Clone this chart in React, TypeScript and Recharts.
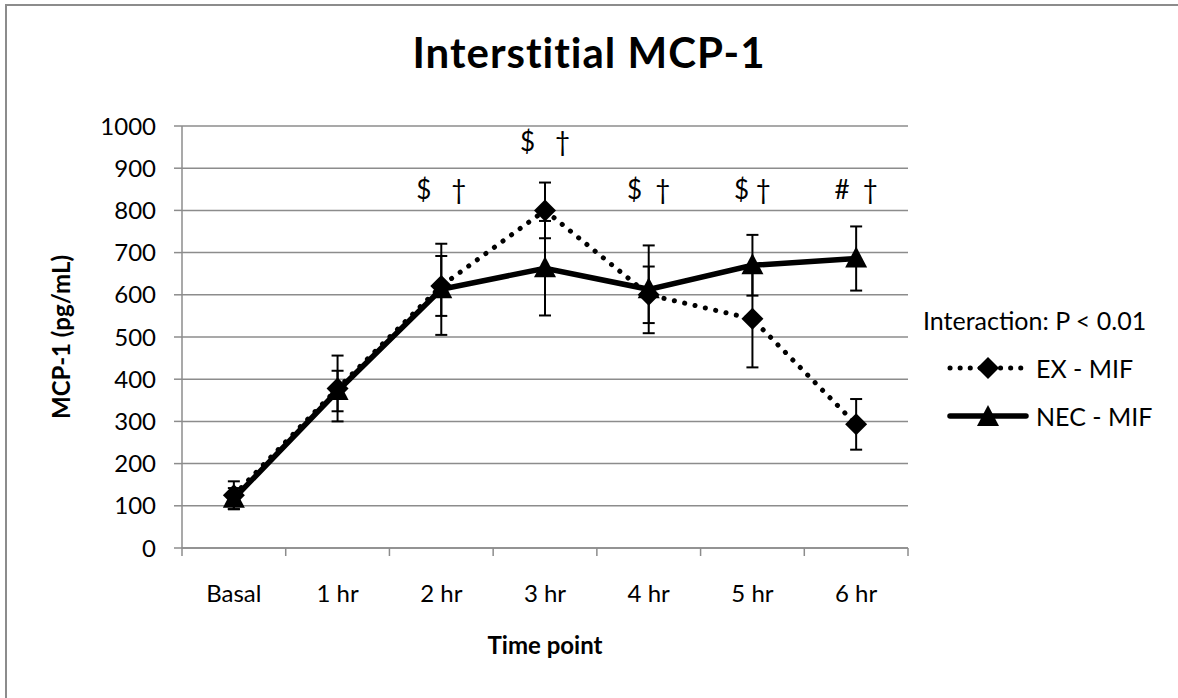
import React from 'react'
import { LineChart, Line, XAxis, YAxis, CartesianGrid, ErrorBar, ReferenceDot } from 'recharts'

const timePoints = ['Basal', '1 hr', '2 hr', '3 hr', '4 hr', '5 hr', '6 hr']
const exMif = [125, 378, 621, 800, 600, 543, 293]
const exMifErr = [33, 78, 71, 66, 67, 115, 60]
const necMif = [117, 372, 613, 663, 613, 670, 686]
const necMifErr = [25, 48, 108, 112, 104, 72, 76]
const notes = ['', '', '$\u00A0\u00A0\u00A0†', '$\u00A0\u00A0\u00A0†', '$\u00A0\u00A0†', '$\u00A0†', '#\u00A0\u00A0†']
const noteLevel = [0, 0, 848, 962, 848, 848, 848]
const yTicks = [0, 100, 200, 300, 400, 500, 600, 700, 800, 900, 1000]

const data = timePoints.map((t, i) => ({
  time: t,
  ex: exMif[i],
  exErr: exMifErr[i],
  nec: necMif[i],
  necErr: necMifErr[i],
}))

const FONT = 'Lato, "Open Sans", sans-serif'
const GRID = '#8c8c8c'
const HALF_STEP = 51.85

const Diamond = (props: any) => {
  const { cx, cy } = props
  if (cx == null || cy == null) return null
  return <path d={`M${cx},${cy - 11} L${cx + 11},${cy} L${cx},${cy + 11} L${cx - 11},${cy} Z`} fill="#000" />
}

const Triangle = (props: any) => {
  const { cx, cy } = props
  if (cx == null || cy == null) return null
  return <path d={`M${cx},${cy - 12} L${cx + 11},${cy + 9} L${cx - 11},${cy + 9} Z`} fill="#000" />
}

const XTick = (props: any) => {
  const { x, y, payload, index } = props
  const last = index === timePoints.length - 1
  return (
    <g>
      <line x1={x - HALF_STEP} x2={x - HALF_STEP} y1={y - 8} y2={y} stroke={GRID} strokeWidth={1.5} />
      {last && <line x1={x + HALF_STEP} x2={x + HALF_STEP} y1={y - 8} y2={y} stroke={GRID} strokeWidth={1.5} />}
      <text x={x} y={y + 46} textAnchor="middle" fontSize={24} fill="#000" fontFamily={FONT}>
        {payload.value}
      </text>
    </g>
  )
}

const LegendBox = () => (
  <div style={{ position: 'absolute', left: 920, top: 305, fontFamily: FONT, fontSize: 25, color: '#000', lineHeight: '30px' }}>
    <div style={{ marginLeft: 3, height: 30 }}>Interaction: P &lt; 0.01</div>
    <div style={{ display: 'flex', alignItems: 'center', marginTop: 18, height: 30 }}>
      <svg width={110} height={24}>
        <line x1={30} x2={106} y1={12} y2={12} stroke="#000" strokeWidth={5} strokeDasharray="0.1 10" strokeLinecap="round" />
        <path d="M68,1 L79,12 L68,23 L57,12 Z" fill="#000" />
      </svg>
      <span style={{ marginLeft: 6 }}>EX -  MIF</span>
    </div>
    <div style={{ display: 'flex', alignItems: 'center', marginTop: 18, height: 30 }}>
      <svg width={110} height={24}>
        <line x1={30} x2={106} y1={12} y2={12} stroke="#000" strokeWidth={5.5} strokeLinecap="round" />
        <path d="M68,1 L79,22 L57,22 Z" fill="#000" />
      </svg>
      <span style={{ marginLeft: 6 }}>NEC - MIF</span>
    </div>
  </div>
)

export default function App() {
  return (
    <div style={{ position: 'absolute', left: 0, top: 0, width: 1178, height: 698, overflow: 'hidden', background: '#fff' }}>
      <div style={{ position: 'absolute', left: 5, top: 4, width: 1300, height: 900, borderTop: `2px solid ${GRID}`, borderLeft: `2px solid ${GRID}` }} />
      <div style={{ position: 'absolute', left: 0, top: 27, width: 1178, textAlign: 'center', fontFamily: FONT, fontWeight: 700, fontSize: 42, letterSpacing: 1, color: '#000' }}>
        Interstitial MCP-1
      </div>
      <LineChart width={1178} height={698} data={data} margin={{ top: 126, right: 270, bottom: 120, left: 122 }}>
        <CartesianGrid horizontal vertical={false} stroke={GRID} strokeWidth={1.5} />
        <XAxis
          dataKey="time"
          padding={{ left: HALF_STEP, right: HALF_STEP }}
          height={30}
          axisLine={{ stroke: GRID, strokeWidth: 1.5 }}
          tickLine={false}
          interval={0}
          tick={<XTick />}
          label={{ value: 'Time point', position: 'insideBottom', offset: -76, fontSize: 24, fontWeight: 700, fill: '#000', fontFamily: FONT }}
        />
        <YAxis
          width={60}
          domain={[0, 1000]}
          ticks={yTicks}
          interval={0}
          axisLine={{ stroke: GRID, strokeWidth: 1.5 }}
          tickLine={{ stroke: GRID, strokeWidth: 1.5 }}
          tickSize={8}
          tickMargin={18}
          tick={{ fontSize: 24, fill: '#000', fontFamily: FONT }}
          label={{ value: 'MCP-1 (pg/mL)', angle: -90, position: 'center', dx: -91, fontSize: 24, fontWeight: 700, fill: '#000', fontFamily: FONT }}
        />
        <Line
          dataKey="ex"
          name="EX - MIF"
          stroke="#000"
          strokeWidth={5}
          strokeDasharray="0.1 10.5"
          strokeLinecap="round"
          dot={<Diamond />}
          activeDot={false}
          isAnimationActive={false}
        >
          <ErrorBar dataKey="exErr" width={6} stroke="#000" strokeWidth={2} direction="y" />
        </Line>
        <Line
          dataKey="nec"
          name="NEC - MIF"
          stroke="#000"
          strokeWidth={5.5}
          dot={<Triangle />}
          activeDot={false}
          isAnimationActive={false}
        >
          <ErrorBar dataKey="necErr" width={6} stroke="#000" strokeWidth={2} direction="y" />
        </Line>
        {timePoints.map((t, i) =>
          notes[i] ? (
            <ReferenceDot
              key={t}
              x={t}
              y={noteLevel[i]}
              r={0}
              fill="none"
              stroke="none"
              ifOverflow="visible"
              label={{ value: notes[i], position: 'center', fontSize: 26, fill: '#000', fontFamily: FONT }}
            />
          ) : null
        )}
      </LineChart>
      <LegendBox />
    </div>
  )
}
